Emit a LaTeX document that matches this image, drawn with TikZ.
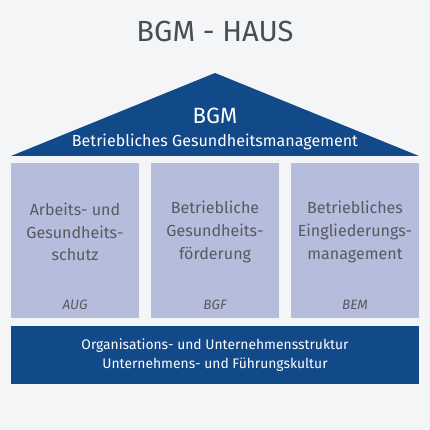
\documentclass[tikz,border=0pt]{standalone}
\usepackage{fontspec}
\setmainfont{Fira Sans}
\usepackage{xcolor}
\definecolor{hausBlue}{HTML}{124A89}
\definecolor{hausPillar}{HTML}{B6BCDC}
\definecolor{hausGray}{HTML}{555B60}
\definecolor{hausBack}{HTML}{F4F5F7}
\usetikzlibrary{positioning}

\tikzset{
  pillartext/.style={text=hausGray, align=center, font=\fontsize{16}{22.5}\selectfont},
  pillartag/.style={text=hausGray, font=\fontsize{13.5}{15}\selectfont\itshape},
  bluetext/.style={text=white, align=center}
}

\begin{document}
\begin{tikzpicture}[x=0.035cm, y=-0.035cm]
  % ---- background ----
  \fill[hausBack] (0,0) rectangle (430,430);
  \useasboundingbox (0,0) rectangle (430,430);
  \node[text=hausGray!85!black, font=\fontsize{29}{32}\selectfont] (title) at (215,31) {BGM - HAUS};
  % ---- roof ----
  \fill[hausBlue] (11,156) -- (215,73) -- (419,156) -- cycle;
  \node[bluetext, font=\fontsize{22}{24}\selectfont] (bgm) at (215,116) {BGM};
  \node[bluetext, font=\fontsize{16}{18}\selectfont] (bgmlong) at (215,142) {Betriebliches Gesundheitsmanagement};
  % ---- pillars ----
  \fill[hausPillar] (11,163) rectangle (139,318);
  \fill[hausPillar] (151,163) rectangle (279,318);
  \fill[hausPillar] (291,163) rectangle (419,318);
  \node[pillartext] (aug) at (75,232) {Arbeits- und\\Gesundheits-\\schutz};
  \node[pillartext] (bgf) at (215,232) {Betriebliche\\Gesundheits-\\förderung};
  \node[pillartext] (bem) at (355,232) {Betriebliches\\Eingliederungs-\\management};
  \node[pillartag] (augtag) at (75,305) {AUG};
  \node[pillartag] (bgftag) at (215,305) {BGF};
  \node[pillartag] (bemtag) at (355,305) {BEM};
  % ---- base ----
  \fill[hausBlue] (11,326) rectangle (419,384);
  \node[bluetext, font=\fontsize{13.8}{19}\selectfont] (base) at (215,355)
    {Organisations- und Unternehmensstruktur\\Unternehmens- und Führungskultur};
\end{tikzpicture}
\end{document}
